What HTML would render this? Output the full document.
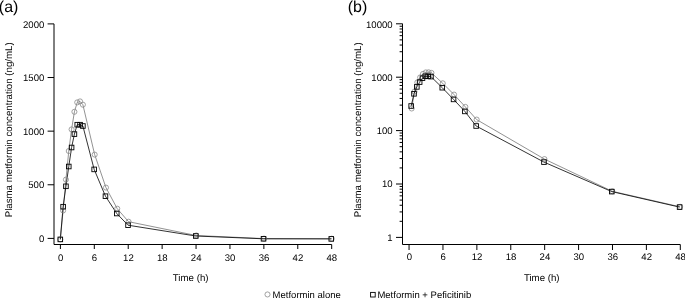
<!DOCTYPE html>
<html><head><meta charset="utf-8"><style>
html,body{margin:0;padding:0;background:#fff;width:685px;height:298px;overflow:hidden}
svg{display:block}
text{font-family:"Liberation Sans",Arial,sans-serif;fill:#000}
.tl{font-size:9.6px}
.tt{font-size:9.7px}
.lg{font-size:9.52px}
.pl{font-size:16px}
.ax{fill:none;stroke:#000;stroke-width:1}
.tk{fill:none;stroke:#000;stroke-width:1}
.lc{fill:none;stroke:#777;stroke-width:0.8}
.ls{fill:none;stroke:#000;stroke-width:0.8}
.mc{fill:none;stroke:#8a8a8a;stroke-width:0.8}
.ms{fill:none;stroke:#000;stroke-width:0.9}
</style></head><body>
<svg width="685" height="298" viewBox="0 0 685 298">
<path d="M54 23.9V244.5H331.70" class="ax"/>
<path d="M47.6 238.40H54" class="tk"/>
<text transform="translate(44.30 241.85) skewX(0.1)" class="tl" text-anchor="end">0</text>
<path d="M47.6 184.78H54" class="tk"/>
<text transform="translate(44.30 188.22) skewX(0.1)" class="tl" text-anchor="end">500</text>
<path d="M47.6 131.15H54" class="tk"/>
<text transform="translate(44.30 134.60) skewX(0.1)" class="tl" text-anchor="end">1000</text>
<path d="M47.6 77.53H54" class="tk"/>
<text transform="translate(44.30 80.98) skewX(0.1)" class="tl" text-anchor="end">1500</text>
<path d="M47.6 23.90H54" class="tk"/>
<text transform="translate(44.30 28.00) skewX(0.1)" class="tl" text-anchor="end">2000</text>
<path d="M60.40 244.5V249" class="tk"/>
<text transform="translate(60.55 261.00) skewX(0.1)" class="tl" text-anchor="middle">0</text>
<path d="M94.31 244.5V249" class="tk"/>
<text transform="translate(94.46 261.00) skewX(0.1)" class="tl" text-anchor="middle">6</text>
<path d="M128.22 244.5V249" class="tk"/>
<text transform="translate(128.37 261.00) skewX(0.1)" class="tl" text-anchor="middle">12</text>
<path d="M162.14 244.5V249" class="tk"/>
<text transform="translate(162.29 261.00) skewX(0.1)" class="tl" text-anchor="middle">18</text>
<path d="M196.05 244.5V249" class="tk"/>
<text transform="translate(196.20 261.00) skewX(0.1)" class="tl" text-anchor="middle">24</text>
<path d="M229.96 244.5V249" class="tk"/>
<text transform="translate(230.11 261.00) skewX(0.1)" class="tl" text-anchor="middle">30</text>
<path d="M263.87 244.5V249" class="tk"/>
<text transform="translate(264.02 261.00) skewX(0.1)" class="tl" text-anchor="middle">36</text>
<path d="M297.78 244.5V249" class="tk"/>
<text transform="translate(297.93 261.00) skewX(0.1)" class="tl" text-anchor="middle">42</text>
<path d="M331.70 244.5V249" class="tk"/>
<text transform="translate(331.85 261.00) skewX(0.1)" class="tl" text-anchor="middle">48</text>
<text transform="translate(172.80 280.70) skewX(0.1)" class="tt">Time (h)</text>
<text transform="translate(11.70 217.30) rotate(-90) skewX(0.1)" class="tt">Plasma metformin concentration (ng/mL)</text>
<text transform="translate(-1.20 11.50) skewX(0.1)" class="pl">(a)</text>
<path d="M60.30 239.40 L63.12 210.50 L65.94 179.60 L68.77 151.00 L71.59 129.40 L74.41 111.80 L77.23 102.40 L80.06 101.40 L82.88 104.70 L94.67 154.60 L105.96 187.60 L117.25 208.70 L128.54 221.70 L196.28 235.50 L264.02 238.60 L331.76 238.70" class="lc"/>
<path d="M60.30 239.40 L63.12 206.70 L65.94 186.30 L68.77 166.50 L71.59 147.50 L74.41 134.10 L77.23 124.70 L80.06 124.70 L82.88 126.00 L94.17 169.40 L105.46 196.20 L116.75 213.50 L128.04 225.20 L195.78 236.00 L263.52 238.80 L331.26 238.90" class="ls"/>
<circle cx="60.30" cy="239.40" r="2.55" class="mc"/>
<circle cx="63.12" cy="210.50" r="2.55" class="mc"/>
<circle cx="65.94" cy="179.60" r="2.55" class="mc"/>
<circle cx="68.77" cy="151.00" r="2.55" class="mc"/>
<circle cx="71.59" cy="129.40" r="2.55" class="mc"/>
<circle cx="74.41" cy="111.80" r="2.55" class="mc"/>
<circle cx="77.23" cy="102.40" r="2.55" class="mc"/>
<circle cx="80.06" cy="101.40" r="2.55" class="mc"/>
<circle cx="82.88" cy="104.70" r="2.55" class="mc"/>
<circle cx="94.67" cy="154.60" r="2.55" class="mc"/>
<circle cx="105.96" cy="187.60" r="2.55" class="mc"/>
<circle cx="117.25" cy="208.70" r="2.55" class="mc"/>
<circle cx="128.54" cy="221.70" r="2.55" class="mc"/>
<circle cx="196.28" cy="235.50" r="2.55" class="mc"/>
<circle cx="264.02" cy="238.60" r="2.55" class="mc"/>
<circle cx="331.76" cy="238.70" r="2.55" class="mc"/>
<rect x="58.00" y="237.10" width="4.6" height="4.6" class="ms"/>
<rect x="60.82" y="204.40" width="4.6" height="4.6" class="ms"/>
<rect x="63.64" y="184.00" width="4.6" height="4.6" class="ms"/>
<rect x="66.47" y="164.20" width="4.6" height="4.6" class="ms"/>
<rect x="69.29" y="145.20" width="4.6" height="4.6" class="ms"/>
<rect x="72.11" y="131.80" width="4.6" height="4.6" class="ms"/>
<rect x="74.94" y="122.40" width="4.6" height="4.6" class="ms"/>
<rect x="77.76" y="122.40" width="4.6" height="4.6" class="ms"/>
<rect x="80.58" y="123.70" width="4.6" height="4.6" class="ms"/>
<rect x="91.87" y="167.10" width="4.6" height="4.6" class="ms"/>
<rect x="103.16" y="193.90" width="4.6" height="4.6" class="ms"/>
<rect x="114.45" y="211.20" width="4.6" height="4.6" class="ms"/>
<rect x="125.74" y="222.90" width="4.6" height="4.6" class="ms"/>
<rect x="193.48" y="233.70" width="4.6" height="4.6" class="ms"/>
<rect x="261.22" y="236.50" width="4.6" height="4.6" class="ms"/>
<rect x="328.96" y="236.60" width="4.6" height="4.6" class="ms"/>
<path d="M402.5 23.7V244.5H680.30" class="ax"/>
<path d="M396 237.40H402.5" class="tk"/>
<text transform="translate(392.70 240.85) skewX(0.1)" class="tl" text-anchor="end">1</text>
<path d="M399.6 221.32H402.5" class="tk"/>
<path d="M399.6 211.92H402.5" class="tk"/>
<path d="M399.6 205.25H402.5" class="tk"/>
<path d="M399.6 200.08H402.5" class="tk"/>
<path d="M399.6 195.85H402.5" class="tk"/>
<path d="M399.6 192.27H402.5" class="tk"/>
<path d="M399.6 189.17H402.5" class="tk"/>
<path d="M399.6 186.44H402.5" class="tk"/>
<path d="M396 184.00H402.5" class="tk"/>
<text transform="translate(392.70 187.45) skewX(0.1)" class="tl" text-anchor="end">10</text>
<path d="M399.6 167.92H402.5" class="tk"/>
<path d="M399.6 158.52H402.5" class="tk"/>
<path d="M399.6 151.85H402.5" class="tk"/>
<path d="M399.6 146.68H402.5" class="tk"/>
<path d="M399.6 142.45H402.5" class="tk"/>
<path d="M399.6 138.87H402.5" class="tk"/>
<path d="M399.6 135.77H402.5" class="tk"/>
<path d="M399.6 133.04H402.5" class="tk"/>
<path d="M396 130.60H402.5" class="tk"/>
<text transform="translate(392.70 134.05) skewX(0.1)" class="tl" text-anchor="end">100</text>
<path d="M399.6 114.52H402.5" class="tk"/>
<path d="M399.6 105.12H402.5" class="tk"/>
<path d="M399.6 98.45H402.5" class="tk"/>
<path d="M399.6 93.28H402.5" class="tk"/>
<path d="M399.6 89.05H402.5" class="tk"/>
<path d="M399.6 85.47H402.5" class="tk"/>
<path d="M399.6 82.37H402.5" class="tk"/>
<path d="M399.6 79.64H402.5" class="tk"/>
<path d="M396 77.20H402.5" class="tk"/>
<text transform="translate(392.70 80.65) skewX(0.1)" class="tl" text-anchor="end">1000</text>
<path d="M399.6 61.12H402.5" class="tk"/>
<path d="M399.6 51.72H402.5" class="tk"/>
<path d="M399.6 45.05H402.5" class="tk"/>
<path d="M399.6 39.88H402.5" class="tk"/>
<path d="M399.6 35.65H402.5" class="tk"/>
<path d="M399.6 32.07H402.5" class="tk"/>
<path d="M399.6 28.97H402.5" class="tk"/>
<path d="M399.6 26.24H402.5" class="tk"/>
<path d="M396 23.80H402.5" class="tk"/>
<text transform="translate(392.70 28.00) skewX(0.1)" class="tl" text-anchor="end">10000</text>
<path d="M409.05 244.5V250" class="tk"/>
<text transform="translate(409.30 260.00) skewX(0.1)" class="tl" text-anchor="middle">0</text>
<path d="M442.96 244.5V250" class="tk"/>
<text transform="translate(443.21 260.00) skewX(0.1)" class="tl" text-anchor="middle">6</text>
<path d="M476.86 244.5V250" class="tk"/>
<text transform="translate(477.11 260.00) skewX(0.1)" class="tl" text-anchor="middle">12</text>
<path d="M510.77 244.5V250" class="tk"/>
<text transform="translate(511.02 260.00) skewX(0.1)" class="tl" text-anchor="middle">18</text>
<path d="M544.67 244.5V250" class="tk"/>
<text transform="translate(544.92 260.00) skewX(0.1)" class="tl" text-anchor="middle">24</text>
<path d="M578.58 244.5V250" class="tk"/>
<text transform="translate(578.83 260.00) skewX(0.1)" class="tl" text-anchor="middle">30</text>
<path d="M612.49 244.5V250" class="tk"/>
<text transform="translate(612.74 260.00) skewX(0.1)" class="tl" text-anchor="middle">36</text>
<path d="M646.39 244.5V250" class="tk"/>
<text transform="translate(646.64 260.00) skewX(0.1)" class="tl" text-anchor="middle">42</text>
<path d="M680.30 244.5V250" class="tk"/>
<text transform="translate(680.55 260.00) skewX(0.1)" class="tl" text-anchor="middle">48</text>
<text transform="translate(523.90 280.70) skewX(0.1)" class="tt">Time (h)</text>
<text transform="translate(360.50 217.30) rotate(-90) skewX(0.1)" class="tt">Plasma metformin concentration (ng/mL)</text>
<text transform="translate(347.70 11.50) skewX(0.1)" class="pl">(b)</text>
<path d="M411.68 108.50 L414.50 91.60 L417.33 82.40 L420.15 77.40 L422.98 73.90 L425.80 72.40 L428.63 72.30 L431.45 72.90 L442.76 83.30 L454.06 94.60 L465.36 106.90 L476.66 119.60 L544.47 159.10 L612.29 191.30 L680.10 206.80" class="lc"/>
<path d="M411.18 106.00 L414.00 93.80 L416.83 86.90 L419.65 82.10 L422.48 78.20 L425.30 76.30 L428.13 76.30 L430.95 76.60 L442.26 87.70 L453.56 99.40 L464.86 111.40 L476.16 126.00 L543.97 162.10 L611.79 191.60 L679.60 207.10" class="ls"/>
<circle cx="411.68" cy="108.50" r="2.55" class="mc"/>
<circle cx="414.50" cy="91.60" r="2.55" class="mc"/>
<circle cx="417.33" cy="82.40" r="2.55" class="mc"/>
<circle cx="420.15" cy="77.40" r="2.55" class="mc"/>
<circle cx="422.98" cy="73.90" r="2.55" class="mc"/>
<circle cx="425.80" cy="72.40" r="2.55" class="mc"/>
<circle cx="428.63" cy="72.30" r="2.55" class="mc"/>
<circle cx="431.45" cy="72.90" r="2.55" class="mc"/>
<circle cx="442.76" cy="83.30" r="2.55" class="mc"/>
<circle cx="454.06" cy="94.60" r="2.55" class="mc"/>
<circle cx="465.36" cy="106.90" r="2.55" class="mc"/>
<circle cx="476.66" cy="119.60" r="2.55" class="mc"/>
<circle cx="544.47" cy="159.10" r="2.55" class="mc"/>
<circle cx="612.29" cy="191.30" r="2.55" class="mc"/>
<circle cx="680.10" cy="206.80" r="2.55" class="mc"/>
<rect x="408.88" y="103.70" width="4.6" height="4.6" class="ms"/>
<rect x="411.70" y="91.50" width="4.6" height="4.6" class="ms"/>
<rect x="414.53" y="84.60" width="4.6" height="4.6" class="ms"/>
<rect x="417.35" y="79.80" width="4.6" height="4.6" class="ms"/>
<rect x="420.18" y="75.90" width="4.6" height="4.6" class="ms"/>
<rect x="423.00" y="74.00" width="4.6" height="4.6" class="ms"/>
<rect x="425.83" y="74.00" width="4.6" height="4.6" class="ms"/>
<rect x="428.65" y="74.30" width="4.6" height="4.6" class="ms"/>
<rect x="439.96" y="85.40" width="4.6" height="4.6" class="ms"/>
<rect x="451.26" y="97.10" width="4.6" height="4.6" class="ms"/>
<rect x="462.56" y="109.10" width="4.6" height="4.6" class="ms"/>
<rect x="473.86" y="123.70" width="4.6" height="4.6" class="ms"/>
<rect x="541.67" y="159.80" width="4.6" height="4.6" class="ms"/>
<rect x="609.49" y="189.30" width="4.6" height="4.6" class="ms"/>
<rect x="677.30" y="204.80" width="4.6" height="4.6" class="ms"/>
<circle cx="267.5" cy="294.45" r="2.55" class="mc"/>
<text transform="translate(272.60 297.50) skewX(0.1)" class="lg">Metformin alone</text>
<rect x="370.6" y="292.4" width="4.6" height="4.6" class="ms"/>
<text transform="translate(377.40 297.50) skewX(0.1)" class="lg">Metformin + Peficitinib</text>
</svg>
</body></html>
